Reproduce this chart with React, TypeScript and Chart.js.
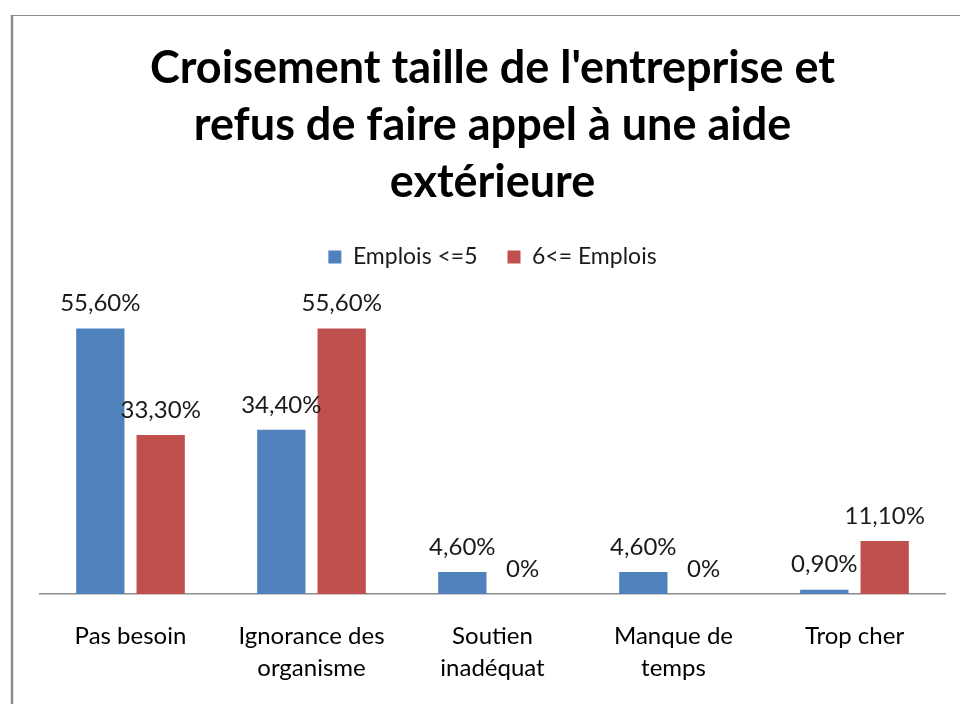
import React, { useEffect, useRef } from "react";
import { Chart, registerables } from "chart.js";

Chart.register(...registerables);

const categories: string[][] = [
  ["Pas besoin"],
  ["Ignorance des", "organisme"],
  ["Soutien", "inadéquat"],
  ["Manque de", "temps"],
  ["Trop cher"],
];
const seriesSmall: number[] = [55.6, 34.4, 4.6, 4.6, 0.9];
const seriesLarge: number[] = [33.3, 55.6, 0, 0, 11.1];
const seriesNames: string[] = ["Emplois <=5", "6<= Emplois"];
const titleLines: string[] = [
  "Croisement taille de l'entreprise et",
  "refus de faire appel à une aide",
  "extérieure",
];

const FONT = "Lato, 'Noto Sans', sans-serif";

const fmt = (v: number) => (v === 0 ? "0%" : v.toFixed(2).replace(".", ",") + "%");

const framePlugin = {
  id: "frame",
  beforeDraw(chart: any) {
    const { ctx, width, height } = chart;
    ctx.save();
    ctx.fillStyle = "#ffffff";
    ctx.fillRect(0, 0, width, height);
    ctx.strokeStyle = "#8c8c8c";
    ctx.lineWidth = 1;
    ctx.beginPath();
    ctx.moveTo(11, 15.5);
    ctx.lineTo(width, 15.5);
    ctx.stroke();
    ctx.lineWidth = 2.5;
    ctx.beginPath();
    ctx.moveTo(12, 15);
    ctx.lineTo(12, height);
    ctx.stroke();
    ctx.restore();
  },
};

const labelPlugin = {
  id: "valueLabels",
  afterDatasetsDraw(chart: any) {
    const { ctx } = chart;
    ctx.save();
    ctx.font = `24px ${FONT}`;
    ctx.fillStyle = "#1a1a1a";
    ctx.textAlign = "center";
    ctx.textBaseline = "middle";
    chart.data.datasets.forEach((ds: any, i: number) => {
      const meta = chart.getDatasetMeta(i);
      meta.data.forEach((bar: any, j: number) => {
        ctx.fillText(fmt(ds.data[j]), bar.x, bar.y - 25);
      });
    });
    ctx.restore();
  },
};

export default function App() {
  const ref = useRef<HTMLCanvasElement | null>(null);
  useEffect(() => {
    document.body.style.margin = "0";
    if (!ref.current) return;
    const chart = new Chart(ref.current, {
      type: "bar",
      data: {
        labels: categories,
        datasets: [
          {
            label: seriesNames[0],
            data: seriesSmall,
            backgroundColor: "#4F81BD",
          },
          {
            label: seriesNames[1],
            data: seriesLarge,
            backgroundColor: "#C0504D",
          },
        ],
      },
      options: {
        animation: false,
        responsive: false,
        maintainAspectRatio: false,
        layout: { padding: { left: 40, right: 15, top: 40, bottom: 20 } },
        datasets: {
          bar: { categoryPercentage: 0.667, barPercentage: 0.8 },
        },
        plugins: {
          title: {
            display: true,
            text: titleLines,
            color: "#000",
            font: { family: FONT, size: 45, weight: "bold", lineHeight: 1.27 },
            padding: { top: 0, bottom: 4 },
          },
          legend: {
            display: true,
            labels: {
              color: "#1a1a1a",
              font: { family: FONT, size: 23 },
              boxWidth: 13,
              boxHeight: 13,
              padding: 30,
            },
          },
          tooltip: { enabled: false },
        },
        scales: {
          x: {
            grid: { display: false, drawTicks: false },
            border: { display: true, color: "#8c8c8c", width: 1.5 },
            ticks: {
              color: "#000",
              padding: 26,
              font: { family: FONT, size: 24, lineHeight: 1.33 },
              maxRotation: 0,
            },
            afterFit: (scale: any) => {
              scale.height = 90;
            },
          },
          y: {
            display: false,
            min: 0,
            max: 66.1,
          },
        },
      },
      plugins: [framePlugin, labelPlugin],
    });
    return () => chart.destroy();
  }, []);
  return (
    <div style={{ width: 960, height: 704 }}>
      <canvas ref={ref} width={960} height={704} style={{ display: "block" }} />
    </div>
  );
}
